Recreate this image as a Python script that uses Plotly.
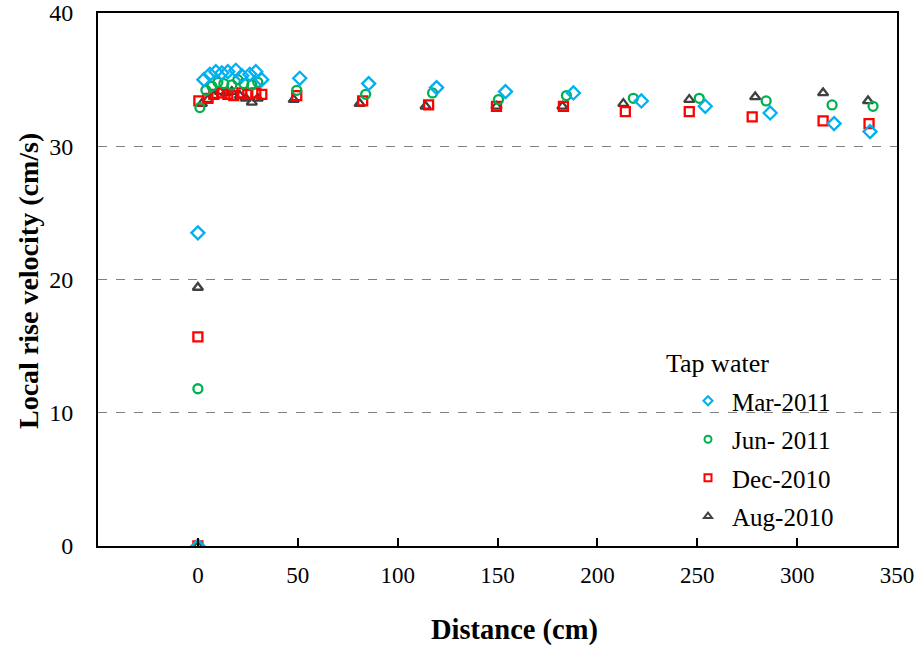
import plotly.graph_objects as go

# Distance along the column (cm) and local rise velocity (cm/s) for each campaign
mar_2011_x = [0, 0, 3, 6, 9, 12, 15, 19, 22, 26, 29, 32,
              51, 85.5, 119.5, 154, 188, 222, 254, 286.5, 318.5, 336.5]
mar_2011_y = [0, 23.5, 35.0, 35.4, 35.6, 35.5, 35.6, 35.7, 35.3, 35.4, 35.6, 35.0,
              35.1, 34.7, 34.4, 34.1, 34.0, 33.4, 33.0, 32.5, 31.7, 31.1]

jun_2011_x = [0, 0, 1, 4, 7, 10, 13, 17, 20, 23, 27, 30,
              49.5, 84, 117.5, 150.5, 184.5, 218, 251, 284.5, 317.5, 338]
jun_2011_y = [0, 11.8, 32.9, 34.2, 34.5, 34.8, 34.7, 34.6, 35.0, 34.7, 34.6, 34.8,
              34.2, 33.9, 34.0, 33.5, 33.8, 33.6, 33.6, 33.4, 33.1, 33.0]

dec_2010_x = [0, 0, 0.5, 5, 8, 12, 15, 18, 22, 25, 29, 32,
              49.5, 82.5, 115.5, 149.5, 183, 214, 246, 277.5, 313, 336]
dec_2010_y = [0, 15.7, 33.4, 33.6, 33.9, 34.0, 33.9, 33.8, 34.0, 33.9, 34.0, 33.9,
              33.8, 33.4, 33.1, 33.0, 33.0, 32.6, 32.6, 32.2, 31.9, 31.7]

aug_2010_x = [0, 0, 2, 5, 8, 11, 14, 17, 21, 24, 27, 30,
              48, 81, 114, 149.5, 182.5, 213, 246, 279, 313, 335.5]
aug_2010_y = [0, 19.4, 33.2, 33.5, 33.8, 34.1, 34.0, 34.1, 33.8, 33.6, 33.3, 33.6,
              33.5, 33.2, 33.0, 33.0, 33.0, 33.2, 33.5, 33.7, 34.0, 33.4]

x_ticks = [0, 50, 100, 150, 200, 250, 300, 350]
y_ticks = [0, 10, 20, 30, 40]

FONT = "Liberation Serif, Times New Roman, serif"

series = [
    ("Mar-2011", mar_2011_x, mar_2011_y, "diamond-open", "#00B0F0", 10),
    ("Jun- 2011", jun_2011_x, jun_2011_y, "circle-open", "#00B050", 9),
    ("Dec-2010", dec_2010_x, dec_2010_y, "square-open", "#FF0000", 9),
    ("Aug-2010", aug_2010_x, aug_2010_y, "triangle-up-open", "#404040", 9),
]

fig = go.Figure()
# data markers: Aug drawn first so Mar ends up on top
for name, xs, ys, sym, col, size in reversed(series):
    fig.add_trace(go.Scatter(
        x=xs, y=ys, mode="markers", name=name, showlegend=False,
        marker=dict(symbol=sym, size=size, color=col, line=dict(color=col, width=2.3)),
    ))
# legend entries with smaller symbols
for rank, (name, xs, ys, sym, col, size) in enumerate(series):
    fig.add_trace(go.Scatter(
        x=[None], y=[None], mode="markers", name=name,
        legendgroup=name, legendrank=rank + 1,
        marker=dict(symbol=sym, size=7, color=col, line=dict(color=col, width=2)),
    ))

pw, ph = 918 - 98 - 21, 645 - 13 - 99


def px_x(p):
    return (p - 98) / pw


def px_y(p):
    return (546 - p) / ph


fig.update_layout(
    width=918, height=645,
    margin=dict(l=98, r=21, t=13, b=99),
    paper_bgcolor="white", plot_bgcolor="white",
    font=dict(family=FONT, size=22, color="black"),
    showlegend=True,
    legend=dict(
        x=px_x(684), y=px_y(378), xanchor="left", yanchor="top",
        bgcolor="rgba(0,0,0,0)", font=dict(family=FONT, size=25),
        tracegroupgap=3, itemwidth=38,
    ),
    annotations=[
        dict(text="Tap water", x=px_x(717), y=px_y(364), xref="paper", yref="paper",
             xanchor="center", yanchor="middle", showarrow=False,
             font=dict(family=FONT, size=26)),
        dict(text="<b>Local rise velocity (cm/s)</b>", x=px_x(28), y=px_y(281),
             xref="paper", yref="paper", xanchor="center", yanchor="middle",
             textangle=-90, showarrow=False, font=dict(family=FONT, size=28)),
        dict(text="<b>Distance (cm)</b>", x=px_x(514), y=px_y(630),
             xref="paper", yref="paper", xanchor="center", yanchor="middle",
             showarrow=False, font=dict(family=FONT, size=28.5)),
    ],
)

fig.update_xaxes(
    range=[-50, 350], tickvals=x_ticks, ticks="inside", ticklen=8, tickwidth=1.5,
    tickcolor="black", showline=True, linecolor="black", linewidth=2, mirror=True,
    showgrid=False, zeroline=False, automargin=False,
    tickfont=dict(family=FONT, size=23), ticklabelstandoff=7,
)
fig.update_yaxes(
    range=[0, 40], tickvals=y_ticks, ticks="", showline=True, linecolor="black",
    linewidth=2, mirror=True, showgrid=True, gridcolor="#808080", griddash="dash",
    gridwidth=1.3, zeroline=False, automargin=False,
    tickfont=dict(family=FONT, size=24), ticklabelstandoff=18,
)

fig.write_html("out.html")
